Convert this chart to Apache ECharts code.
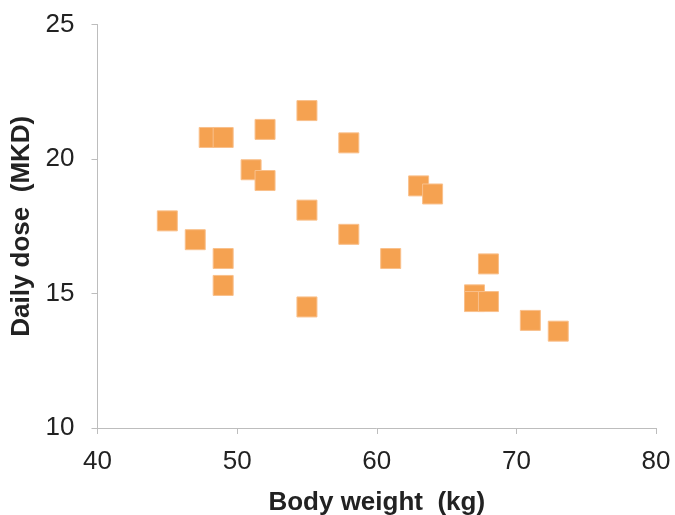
<!DOCTYPE html>
<html>
<head>
<meta charset="utf-8">
<script src="https://cdn.jsdelivr.net/npm/echarts@6/dist/echarts.min.js"></script>
<style>html,body{margin:0;padding:0;background:#fff}#c{width:675px;height:515px}</style>
</head>
<body>
<div id="c"></div>
<script>
const bodyWeight = [45, 47, 48, 49, 49, 49, 51, 52, 52, 55, 55, 55, 58, 58, 61, 63, 64, 67, 67, 68, 68, 71, 73];
const dailyDose  = [17.7, 17.0, 20.8, 20.8, 16.3, 15.3, 19.6, 21.1, 19.2, 21.8, 18.1, 14.5, 20.6, 17.2, 16.3, 19.0, 18.7, 14.95, 14.7, 16.1, 14.7, 14.0, 13.6];
const xTicks = [40, 50, 60, 70, 80];
const yTicks = [10, 15, 20, 25];

const points = bodyWeight.map((x, i) => [x, dailyDose[i]]);
const chart = echarts.init(document.getElementById('c'), null, {renderer: 'canvas'});
const fam = 'Liberation Sans, Arial, sans-serif';
const axisFont = {fontFamily: fam, fontSize: 26, color: '#222'};
const nameFont = {fontFamily: fam, fontSize: 26, fontWeight: 'bold', color: '#222'};
chart.setOption({
  animation: false,
  grid: {left: 97.5, right: 19, top: 24.5, bottom: 87, containLabel: false, outerBoundsMode: 'none'},
  xAxis: {
    type: 'value', min: xTicks[0], max: xTicks[xTicks.length - 1], interval: 10,
    name: 'Body weight  (kg)', nameLocation: 'middle', nameGap: 62,
    nameTextStyle: nameFont,
    axisLine: {lineStyle: {color: '#bdbdbd', width: 1}},
    axisTick: {show: true, length: 6, lineStyle: {color: '#bdbdbd'}},
    axisLabel: Object.assign({margin: 21}, axisFont),
    splitLine: {show: false}
  },
  yAxis: {
    type: 'value', min: yTicks[0], max: yTicks[yTicks.length - 1], interval: 5,
    name: 'Daily dose  (MKD)', nameLocation: 'middle', nameGap: 58,
    nameTextStyle: nameFont,
    axisLine: {show: true, lineStyle: {color: '#bdbdbd', width: 1}},
    axisTick: {show: true, length: 6, lineStyle: {color: '#bdbdbd'}},
    axisLabel: Object.assign({margin: 23}, axisFont),
    splitLine: {show: false}
  },
  series: [{
    type: 'scatter',
    data: points,
    symbol: 'rect',
    symbolSize: 20,
    itemStyle: {color: '#f5a251', borderColor: '#f9c08c', borderWidth: 1, opacity: 1}
  }]
});
</script>
</body>
</html>
